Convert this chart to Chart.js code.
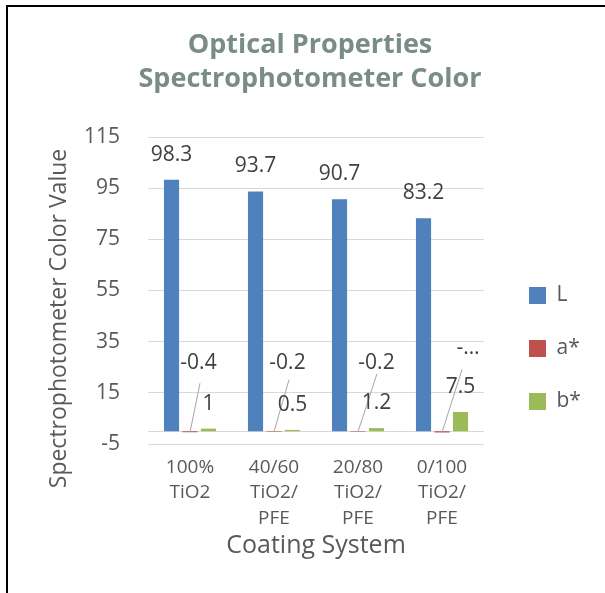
<!DOCTYPE html>
<html>
<head>
<meta charset="utf-8">
<script src="https://cdn.jsdelivr.net/npm/chart.js@4.4.1/dist/chart.umd.min.js"></script>
<style>
  html, body { margin: 0; padding: 0; background: #ffffff; }
  canvas { display: block; }
</style>
</head>
<body>
<canvas id="chart" width="605" height="593"></canvas>
<script>
// ---- Data ----
const titleLines = ['Optical Properties', 'Spectrophotometer Color'];
const categories = [
  ['100%', 'TiO2'],
  ['40/60', 'TiO2/', 'PFE'],
  ['20/80', 'TiO2/', 'PFE'],
  ['0/100', 'TiO2/', 'PFE']
];
const seriesNames = ['L', 'a*', 'b*'];
const lValues = [98.3, 93.7, 90.7, 83.2];
const aValues = [-0.4, -0.2, -0.2, -0.5];
const bValues = [1, 0.5, 1.2, 7.5];
const yMin = -5;
const yMax = 115;
const yStep = 20;
const xAxisTitle = 'Coating System';
const yAxisTitle = 'Spectrophotometer Color Value';

// ---- Styling ----
const FONT = "'Open Sans', sans-serif";
const TEXT = '#595959';
const LABEL = '#404040';
const GRID = '#D9D9D9';
const COLORS = ['#4F81BD', '#C0504D', '#9BBB59'];

// Black frame along the top and left edges
const framePlugin = {
  id: 'frame',
  beforeDraw(chart) {
    const ctx = chart.ctx;
    ctx.save();
    ctx.fillStyle = '#ffffff';
    ctx.fillRect(0, 0, chart.width, chart.height);
    ctx.fillStyle = '#000000';
    ctx.fillRect(6, 5, chart.width - 6, 2);
    ctx.fillRect(6, 5, 2, chart.height - 5);
    ctx.restore();
  }
};

// Horizontal category axis line crossing at value 0
const zeroLinePlugin = {
  id: 'zeroLine',
  beforeDatasetsDraw(chart) {
    const {ctx, chartArea} = chart;
    const y = Math.round(chart.scales.y.getPixelForValue(0)) + 0.5;
    ctx.save();
    ctx.strokeStyle = GRID;
    ctx.lineWidth = 1;
    ctx.beginPath();
    ctx.moveTo(chartArea.left, y);
    ctx.lineTo(chartArea.right, y);
    ctx.stroke();
    ctx.restore();
  }
};

// Vertical value-axis title, centred on the plot plus category labels
const yTitlePlugin = {
  id: 'yTitle',
  afterDraw(chart, args, opts) {
    const ctx = chart.ctx;
    const x = chart.scales.y.left + opts.offset;
    const yc = (chart.chartArea.top + chart.scales.x.top + opts.extend) / 2;
    ctx.save();
    ctx.translate(x, yc);
    ctx.rotate(-Math.PI / 2);
    ctx.font = `${opts.size}px ${FONT}`;
    ctx.fillStyle = TEXT;
    ctx.textAlign = 'center';
    ctx.textBaseline = 'middle';
    ctx.fillText(yAxisTitle, 0, 0);
    ctx.restore();
  }
};

// Value labels above bars; callout labels with leader lines for small values
const valueLabelsPlugin = {
  id: 'valueLabels',
  afterDatasetsDraw(chart, args, opts) {
    const ctx = chart.ctx;
    ctx.save();
    ctx.font = `${opts.size}px ${FONT}`;
    ctx.fillStyle = LABEL;
    ctx.textAlign = 'center';
    ctx.textBaseline = 'middle';
    chart.data.datasets.forEach((ds, di) => {
      const meta = chart.getDatasetMeta(di);
      const callout = opts.callouts[di];
      meta.data.forEach((bar, i) => {
        let text = String(ds.data[i]);
        if (callout) {
          const maxChars = callout.maxChars[i];
          if (maxChars && text.length > maxChars) text = text.slice(0, maxChars) + '\u2026';
          const y0 = Math.max(bar.y, bar.base);
          ctx.strokeStyle = opts.leaderColor;
          ctx.lineWidth = 1;
          ctx.beginPath();
          ctx.moveTo(bar.x, y0);
          ctx.lineTo(bar.x + callout.lineDx[i], y0 + callout.lineDy[i]);
          ctx.stroke();
          ctx.fillText(text, bar.x + callout.dx[i], y0 + callout.dy[i]);
        } else {
          ctx.fillText(text, bar.x, Math.min(bar.y, bar.base) - opts.offset);
        }
      });
    });
    ctx.restore();
  }
};

new Chart(document.getElementById('chart'), {
  type: 'bar',
  data: {
    labels: categories,
    datasets: [
      { label: seriesNames[0], data: lValues, backgroundColor: COLORS[0] },
      { label: seriesNames[1], data: aValues, backgroundColor: COLORS[1] },
      { label: seriesNames[2], data: bValues, backgroundColor: COLORS[2] }
    ]
  },
  options: {
    responsive: false,
    animation: false,
    devicePixelRatio: 1,
    datasets: { bar: { categoryPercentage: 0.66, barPercentage: 0.82 } },
    layout: { padding: { left: 37, right: 22, top: 0, bottom: 0 } },
    plugins: {
      title: {
        display: true,
        text: titleLines,
        color: '#798C87',
        font: { family: FONT, size: 27, weight: 'bold', lineHeight: 34 / 27 },
        padding: { top: 28, bottom: 41 }
      },
      legend: {
        position: 'right',
        align: 'end',
        fullSize: false,
        maxWidth: 86,
        labels: {
          boxWidth: 17,
          boxHeight: 17,
          padding: 32,
          color: TEXT,
          font: { family: FONT, size: 21 }
        }
      },
      tooltip: { enabled: false },
      yTitle: { offset: 22, size: 23, extend: 56 },
      valueLabels: {
        size: 21,
        offset: 25,
        leaderColor: '#A6A6A6',
        callouts: {
          1: {
            dx: [8.5, 13.5, 18.5, 26],
            dy: [-69, -69, -69, -84],
            lineDx: [10, 15, 19, 20],
            lineDy: [-49, -52, -58, -63],
            maxChars: [0, 0, 0, 1]
          }
        }
      }
    },
    scales: {
      x: {
        grid: { display: false },
        border: { display: false },
        ticks: {
          color: TEXT,
          font: { family: FONT, size: 19, lineHeight: 1.34 },
          padding: 2.5,
          maxRotation: 0,
          autoSkip: false
        },
        title: {
          display: true,
          text: xAxisTitle,
          color: TEXT,
          font: { family: FONT, size: 25 },
          padding: { top: 0, bottom: 32 }
        },
        afterFit(scale) { scale.height = 149; }
      },
      y: {
        min: yMin,
        max: yMax,
        ticks: {
          stepSize: yStep,
          color: TEXT,
          font: { family: FONT, size: 21 },
          padding: 28
        },
        grid: { color: GRID, drawTicks: false },
        border: { display: false },
        afterFit(scale) { scale.width = 111; }
      },
      legendGap: {
        type: 'linear',
        position: 'right',
        grid: { display: false },
        ticks: { display: false },
        border: { display: false },
        afterFit(scale) { scale.width = 13; }
      }
    }
  },
  plugins: [framePlugin, zeroLinePlugin, yTitlePlugin, valueLabelsPlugin]
});
</script>
</body>
</html>
